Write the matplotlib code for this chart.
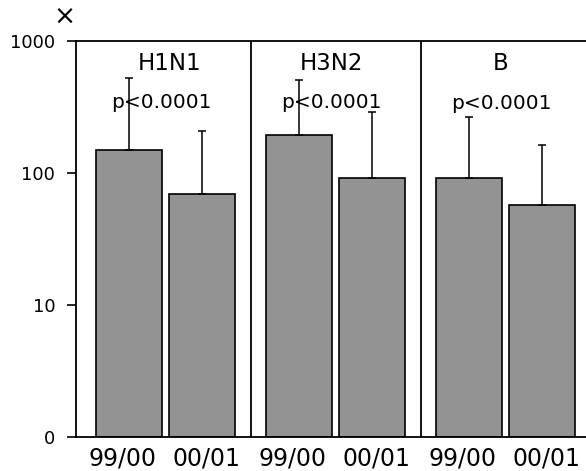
import matplotlib.pyplot as plt
import numpy as np

strains = ['H1N1', 'H3N2', 'B']
seasons = ['99/00', '00/01']
gmt = [[149, 68], [194, 90], [90, 56]]
upper = [[525, 208], [507, 290], [266, 163]]
pvals = ['p<0.0001', 'p<0.0001', 'p<0.0001']

fig = plt.figure(figsize=(5.86, 4.71), dpi=100)
ax = fig.add_axes([76/586, 34/471, 510/586, 396/471])

offsets = [0.31, 0.74]
label_shift = [-0.035, 0.03]
width = 0.39
title_x = [0.55, 0.5, 0.5]
p_y = [345, 345, 335]
xt, xl = [], []
for i, s in enumerate(strains):
    for j in range(2):
        x = i + offsets[j]
        v = gmt[i][j]
        ax.bar(x, v, width, bottom=1, color='#939393', edgecolor='black', linewidth=1.2, zorder=2)
        ax.errorbar(x, v + 1, yerr=[[0], [upper[i][j] - v - 1]], fmt='none', ecolor='black',
                    elinewidth=1.1, capsize=3, capthick=1.1, zorder=3)
        xt.append(x + label_shift[j])
        xl.append(seasons[j])
    ax.text(i + title_x[i], 681, s, ha='center', va='center', fontsize=16.5)
    ax.text(i + 0.5, p_y[i], pvals[i], ha='center', va='center', fontsize=14.5)
    if i > 0:
        ax.axvline(i + 0.03, color='black', lw=1.3)

ax.set_yscale('log')
ax.set_ylim(1, 1000)
ax.set_xlim(0, 3)
ax.set_yticks([1, 10, 100, 1000])
ax.set_yticklabels(['0', '10', '100', '1000'], fontsize=13)
ax.minorticks_off()
ax.tick_params(axis='y', direction='out', length=6.5, width=1.2, pad=8.5)
ax.set_xticks(xt)
ax.set_xticklabels(xl, fontsize=17)
ax.tick_params(axis='x', length=0, pad=7)
ax.spines['right'].set_visible(False)
for sp in ['left', 'bottom', 'top']:
    ax.spines[sp].set_linewidth(1.3)
fig.text(64/586, 1 - 18/471, '×', ha='center', va='center', fontsize=19)

plt.savefig('out.png', dpi=100)
plt.close()
